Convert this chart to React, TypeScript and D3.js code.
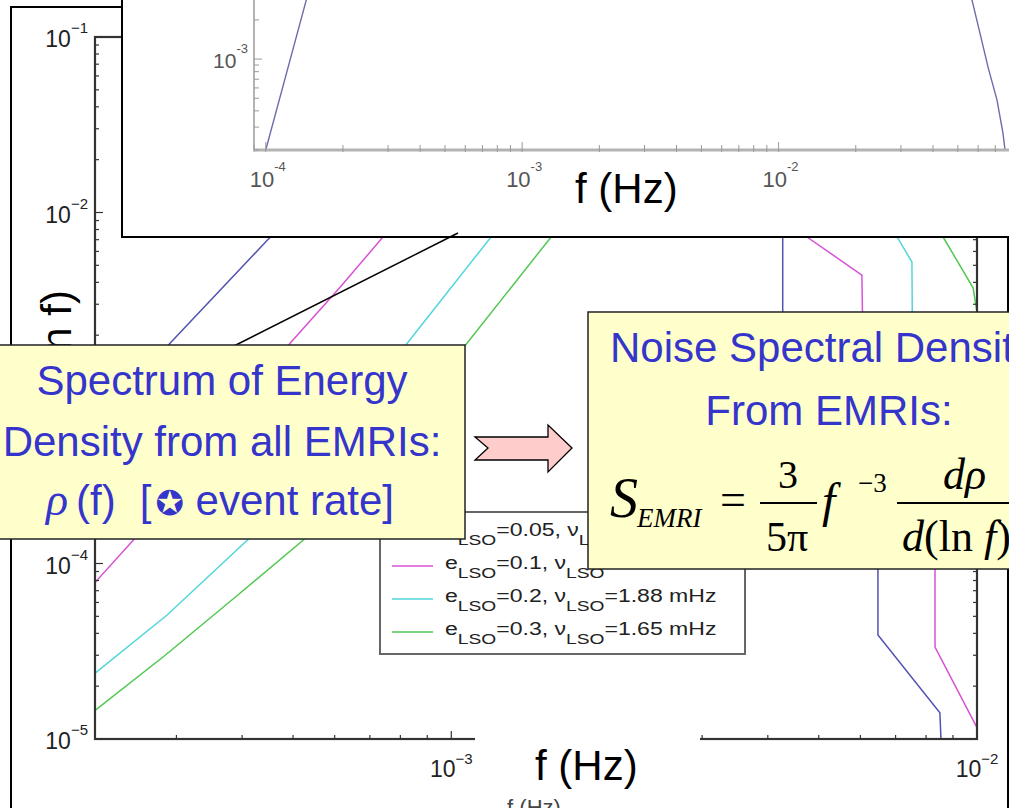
import React from 'react';
import * as d3 from 'd3';

const W = 1009;
const H = 808;
const SANS = "'Liberation Sans', Arial, Helvetica, sans-serif";
const SERIF = "'Liberation Serif', 'Times New Roman', Times, serif";

// dρ/d(ln f) for four LSO eccentricities; frequencies in Hz
const freqE005 = [2.104e-4, 2.92e-4, 4.47e-4, 6.15e-4, 8.73e-4, 1.35e-3, 2.29e-3, 3.54e-3, 4.27e-3, 4.27e-3, 4.27e-3, 6.48e-3, 6.48e-3, 8.5e-3, 8.54e-3];
const rhoE005 = [6.0e-4, 1.805e-3, 6.97e-3, 1.75e-2, 3.84e-2, 6.07e-2, 6.92e-2, 5.69e-2, 2.95e-2, 7.25e-3, 6.58e-4, 1.36e-4, 3.92e-5, 1.41e-5, 1.0e-5];

const freqE01 = [2.104e-4, 2.485e-4, 3.48e-4, 4.94e-4, 6.15e-4, 7.33e-4, 9.96e-4, 1.54e-3, 2.49e-3, 3.86e-3, 4.75e-3, 6.04e-3, 6.1e-3, 8.32e-3, 8.32e-3, 1.0e-2];
const rhoE01 = [7.84e-5, 1.36e-4, 4.43e-4, 1.805e-3, 3.76e-3, 6.97e-3, 1.99e-2, 3.84e-2, 4.68e-2, 2.27e-2, 7.25e-3, 4.4e-3, 5.77e-4, 1.77e-4, 3.34e-5, 1.16e-5];

const freqE02 = [2.104e-4, 2.88e-4, 4.095e-4, 5.89e-4, 8.25e-4, 1.186e-3, 1.61e-3, 2.49e-3, 4.22e-3, 6.0e-3, 7.05e-3, 7.52e-3, 7.55e-3, 1.0e-2];
const rhoE02 = [2.38e-5, 5.09e-5, 1.36e-4, 5.06e-4, 1.805e-3, 7.16e-3, 1.99e-2, 3.37e-2, 3.37e-2, 1.75e-2, 7.25e-3, 5.22e-3, 8.55e-4, 2.3e-4];

const freqE03 = [2.104e-4, 2.86e-4, 3.885e-4, 5.23e-4, 7.49e-4, 1.072e-3, 1.543e-3, 2.09e-3, 3.54e-3, 6.55e-3, 8.62e-3, 9.83e-3, 1.0e-2];
const rhoE03 = [1.46e-5, 3.01e-5, 6.44e-5, 1.36e-4, 5.06e-4, 1.805e-3, 7.16e-3, 1.75e-2, 2.59e-2, 2.27e-2, 7.25e-3, 3.72e-3, 2.71e-3];

const seriesColors = ['#5252b2', '#d852d4', '#52d6da', '#52c852'];
const legendEcc = ['0.05', '0.1', '0.2', '0.3'];
const legendNu = ['2.21', '2.08', '1.88', '1.65'];

// broadband spectrum drawn in the inset panel
const insetFreq = [1.0e-4, 1.439e-4, 1.78e-4, 3e-4, 6e-4, 1.5e-3, 4e-3, 1e-2, 2.5e-2, 4.5e-2, 5.68e-2, 6.1e-2, 6.56e-2, 7.11e-2, 7.5e-2, 7.64e-2];
const insetRho = [2e-4, 2.84e-3, 1.67e-2, 4e-2, 6e-2, 7e-2, 7.5e-2, 6e-2, 3e-2, 8e-3, 2.84e-3, 1.585e-3, 8.68e-4, 4.84e-4, 2.7e-4, 2e-4];

const mainXTickLabels = [1e-3, 1e-2];
const mainYTickLabels = [1e-1, 1e-2, 1e-3, 1e-4, 1e-5];
const insetXTickLabels = [1e-4, 1e-3, 1e-2];
const insetYTickLabels = [1e-3];

const expOf = (v: number) => `\u2212${-Math.round(Math.log10(v))}`;
const isDecade = (v: number) => Math.abs(Math.log10(v) - Math.round(Math.log10(v))) < 1e-6;

function PowLabel(props: { x: number; y: number; v: number; size: number; sup: number; dy: number; anchor: string; fill: string; minus?: string }) {
  const { x, y, v, size, sup, dy, anchor, fill } = props;
  const e = props.minus ? `${props.minus}${-Math.round(Math.log10(v))}` : expOf(v);
  return (
    <text x={x} y={y} fontSize={size} fill={fill} fontFamily={SANS} textAnchor={anchor as any}>
      10
      <tspan dy={dy} fontSize={sup}>{e}</tspan>
    </text>
  );
}

function MainPanel() {
  const x = d3.scaleLog().domain([2.1e-4, 1e-2]).range([95, 977]);
  const y = d3.scaleLog().domain([1e-5, 1e-1]).range([739, 37]);
  const [x0, x1] = x.range();
  const [y0, y1] = y.range();
  const series = [
    [freqE005, rhoE005],
    [freqE01, rhoE01],
    [freqE02, rhoE02],
    [freqE03, rhoE03],
  ];
  const axis = '#333';
  const xt = x.ticks();
  const yt = y.ticks();
  return (
    <g>
      <defs>
        <clipPath id="mainClip">
          <rect x={x0} y={y1} width={x1 - x0} height={y0 - y1} />
        </clipPath>
      </defs>
      <g clipPath="url(#mainClip)">
        {series.map(([fs, rs], k) => {
          const line = d3
            .line<number>()
            .x((d) => x(d))
            .y((_, i) => y(rs[i]));
          return <path key={k} d={line(fs) || ''} fill="none" stroke={seriesColors[k]} strokeWidth={1.5} />;
        })}
      </g>
      <rect x={x0} y={y1} width={x1 - x0} height={y0 - y1} fill="none" stroke={axis} strokeWidth={2.2} />
      {xt.map((t, i) => {
        const L = isDecade(t) ? 8 : 4;
        return (
          <g key={i} stroke={axis} strokeWidth={1.2}>
            <line x1={x(t)} x2={x(t)} y1={y0} y2={y0 - L} />
            <line x1={x(t)} x2={x(t)} y1={y1} y2={y1 + L} />
          </g>
        );
      })}
      {yt.map((t, i) => {
        const L = isDecade(t) ? 8 : 4;
        return (
          <g key={i} stroke={axis} strokeWidth={1.2}>
            <line x1={x0} x2={x0 + L} y1={y(t)} y2={y(t)} />
            <line x1={x1} x2={x1 - L} y1={y(t)} y2={y(t)} />
          </g>
        );
      })}
      {mainYTickLabels.map((t, i) => (
        <PowLabel key={i} x={88} y={y(t) + 10} v={t} size={23} sup={15} dy={-14} anchor="end" fill="#222" />
      ))}
      {mainXTickLabels.map((t, i) => (
        <PowLabel key={i} x={x(t)} y={777} v={t} size={23} sup={15} dy={-13} anchor="middle" fill="#222" />
      ))}
      {/* y-axis title */}
      <text transform="translate(71,290) rotate(-90)" textAnchor="end" fontSize={42} fontFamily={SANS} fill="#000">
        dρ/d(ln f)
      </text>
      {/* legend */}
      <rect x={380} y={512} width={365} height={142} fill="#fff" stroke="#666" strokeWidth={2} />
      {legendEcc.map((e, i) => {
        const base = 536 + i * 33;
        return (
          <g key={i}>
            <line x1={392} x2={433} y1={base - 3} y2={base - 3} stroke={seriesColors[i]} strokeWidth={1.5} />
            <g transform={`translate(445,${base}) scale(1.28,1)`}>
              <text x={0} y={0} fontSize={18} fontFamily={SANS} fill="#222">
                e
                <tspan dy={9} fontSize={15}>LSO</tspan>
                <tspan dy={-9}>={e}, ν</tspan>
                <tspan dy={9} fontSize={15}>LSO</tspan>
                <tspan dy={-9}>={legendNu[i]} mHz</tspan>
              </text>
            </g>
          </g>
        );
      })}
    </g>
  );
}

function InsetPanel() {
  const x = d3.scaleLog().domain([9e-5, 1e-1]).range([254, 1035]);
  const y = d3.scaleLog().domain([2e-4, 1e-2]).range([150, -71]);
  const [x0, x1] = x.range();
  const [y0, y1] = y.range();
  const line = d3
    .line<number>()
    .x((d) => x(d))
    .y((_, i) => y(insetRho[i]));
  const axis = '#b4b4b4';
  return (
    <g>
      <rect x={122} y={-10} width={900} height={247} fill="#fff" stroke="#000" strokeWidth={2} />
      <defs>
        <clipPath id="insetClip">
          <rect x={x0} y={y1} width={x1 - x0} height={y0 - y1} />
        </clipPath>
      </defs>
      <path d={line(insetFreq) || ''} fill="none" stroke="#6c6cae" strokeWidth={1.4} clipPath="url(#insetClip)" />
      <line x1={x0} x2={x1} y1={y0} y2={y0} stroke={axis} strokeWidth={3} />
      <line x1={x0} x2={x0} y1={y0} y2={y1} stroke={axis} strokeWidth={2} />
      {x.ticks().map((t, i) => (
        <line key={i} x1={x(t)} x2={x(t)} y1={y0 + 2} y2={y0 - (isDecade(t) ? 8 : 5)} stroke="#999" strokeWidth={1} />
      ))}
      {y.ticks().map((t, i) => (
        <line key={i} x1={x0} x2={x0 + (isDecade(t) ? 8 : 5)} y1={y(t)} y2={y(t)} stroke="#999" strokeWidth={1} />
      ))}
      {insetXTickLabels.map((t, i) => (
        <PowLabel key={i} x={x(t) + 2} y={187} v={t} size={22} sup={13} dy={-16} anchor="middle" fill="#555" minus="-" />
      ))}
      {insetYTickLabels.map((t, i) => (
        <PowLabel key={i} x={248} y={y(t) + 9} v={t} size={21} sup={13} dy={-15} anchor="end" fill="#555" minus="-" />
      ))}
      <rect x={555} y={153} width={162} height={73} fill="#fff" />
      <text x={575} y={203} fontSize={42} fontFamily={SANS} fill="#000">f (Hz)</text>
    </g>
  );
}

function Callouts() {
  const yellow = '#ffffcc';
  const blue = '#3535cc';
  return (
    <g>
      <line x1={458} y1={233} x2={234} y2={346} stroke="#000" strokeWidth={1.5} />
      {/* left note */}
      <rect x={-4} y={345} width={469} height={194} fill={yellow} stroke="#222" strokeWidth={1.5} />
      <g fontFamily={SANS} fontSize={42} fill={blue} textAnchor="middle">
        <text x={222} y={395}>Spectrum of Energy</text>
        <text x={222} y={456}>Density from all EMRIs:</text>
        <text x={220} y={515}>
          <tspan fontFamily={SERIF} fontStyle="italic" fontSize={46}>ρ</tspan>
          <tspan dx={8}>(f)</tspan>
          <tspan dx={24}>[</tspan>
          <tspan dx={4} fontFamily="'DejaVu Sans', sans-serif" fontSize={34}>✪</tspan>
          <tspan> event rate]</tspan>
        </text>
      </g>
      {/* arrow */}
      <polygon
        points="475,437 548,437 548,425 572,448 548,472 548,460 475,460 488,448"
        fill="#ffcccc"
        stroke="#000"
        strokeWidth={1.3}
      />
      {/* right note */}
      <rect x={588} y={312} width={430} height={257} fill={yellow} stroke="#222" strokeWidth={1.5} />
      <g fontFamily={SANS} fontSize={42} fill={blue}>
        <text x={610} y={362}>Noise Spectral Density</text>
        <text x={829} y={425} textAnchor="middle">From EMRIs:</text>
      </g>
      <g fontFamily={SERIF} fill="#000">
        <text x={610} y={517} fontSize={56} fontStyle="italic">S</text>
        <text x={637} y={527} fontSize={27} fontStyle="italic">EMRI</text>
        <text x={720} y={515} fontSize={46}>=</text>
        <text x={788} y={488} fontSize={40} textAnchor="middle">3</text>
        <line x1={760} x2={817} y1={503} y2={503} stroke="#000" strokeWidth={2} />
        <text x={787} y={551} fontSize={42} textAnchor="middle">5π</text>
        <text x={822} y={517} fontSize={48} fontStyle="italic">f</text>
        <text x={858} y={492} fontSize={27}>−3</text>
        <line x1={897} x2={1030} y1={503} y2={503} stroke="#000" strokeWidth={2} />
        <text x={943} y={489} fontSize={44} fontStyle="italic">dρ</text>
        <text x={902} y={551} fontSize={44}>
          <tspan fontStyle="italic">d</tspan>
          <tspan>(ln </tspan>
          <tspan fontStyle="italic">f</tspan>
          <tspan>)</tspan>
        </text>
      </g>
    </g>
  );
}

export default function App() {
  return (
    <svg
      width={W}
      height={H}
      viewBox={`0 0 ${W} ${H}`}
      style={{ position: 'absolute', left: 0, top: 0, background: '#fff' }}
    >
      <rect x={0} y={0} width={W} height={H} fill="#fff" />
      <rect x={11} y={7} width={997} height={830} fill="#fff" stroke="#000" strokeWidth={2} />
      <MainPanel />
      {/* x-axis title, partly covered by the larger caption */}
      <text x={534} y={815} fontSize={22} fontFamily={SANS} fill="#444" textAnchor="middle">f (Hz)</text>
      <rect x={475} y={727} width={225} height={71} fill="#fff" />
      <text x={535} y={780} fontSize={42} fontFamily={SANS} fill="#000">f (Hz)</text>
      <InsetPanel />
      <Callouts />
    </svg>
  );
}
